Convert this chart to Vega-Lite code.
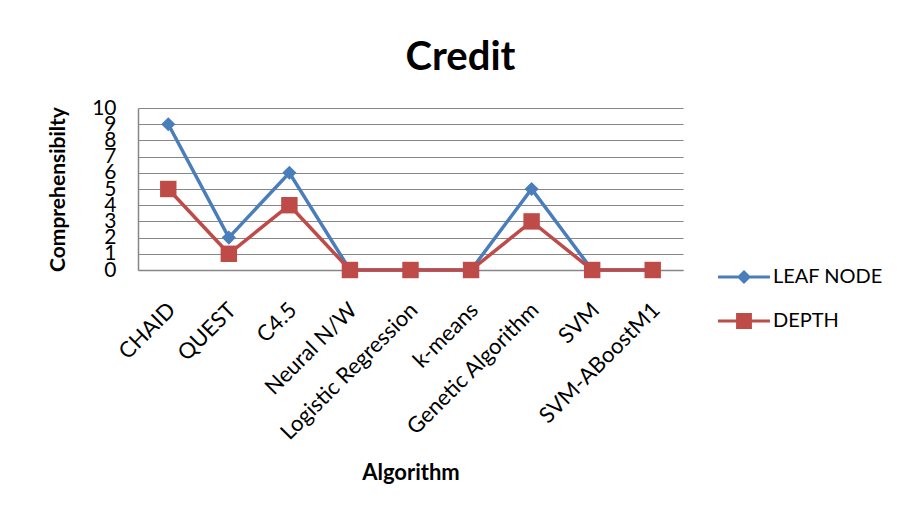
{
  "$schema": "https://vega.github.io/schema/vega-lite/v6.json",
  "width": 545,
  "height": 162,
  "autosize": "none",
  "padding": {"left": 138, "top": 108, "right": 214, "bottom": 241},
  "background": "white",
  "title": {
    "text": "Credit",
    "font": "Lato",
    "fontSize": 40,
    "fontWeight": "bold",
    "color": "black",
    "anchor": "middle",
    "dx": 50,
    "offset": 19
  },
  "data": {
    "values": [
      {"Algorithm": "CHAID", "Series": "LEAF NODE", "Value": 9},
      {"Algorithm": "QUEST", "Series": "LEAF NODE", "Value": 2},
      {"Algorithm": "C4.5", "Series": "LEAF NODE", "Value": 6},
      {"Algorithm": "Neural N/W", "Series": "LEAF NODE", "Value": 0},
      {"Algorithm": "Logistic Regression", "Series": "LEAF NODE", "Value": 0},
      {"Algorithm": "k-means", "Series": "LEAF NODE", "Value": 0},
      {"Algorithm": "Genetic Algorithm", "Series": "LEAF NODE", "Value": 5},
      {"Algorithm": "SVM", "Series": "LEAF NODE", "Value": 0},
      {"Algorithm": "SVM-ABoostM1", "Series": "LEAF NODE", "Value": 0},
      {"Algorithm": "CHAID", "Series": "DEPTH", "Value": 5},
      {"Algorithm": "QUEST", "Series": "DEPTH", "Value": 1},
      {"Algorithm": "C4.5", "Series": "DEPTH", "Value": 4},
      {"Algorithm": "Neural N/W", "Series": "DEPTH", "Value": 0},
      {"Algorithm": "Logistic Regression", "Series": "DEPTH", "Value": 0},
      {"Algorithm": "k-means", "Series": "DEPTH", "Value": 0},
      {"Algorithm": "Genetic Algorithm", "Series": "DEPTH", "Value": 3},
      {"Algorithm": "SVM", "Series": "DEPTH", "Value": 0},
      {"Algorithm": "SVM-ABoostM1", "Series": "DEPTH", "Value": 0}
    ]
  },
  "encoding": {
    "x": {
      "field": "Algorithm",
      "type": "nominal",
      "sort": null,
      "scale": {"type": "point", "padding": 0.5},
      "axis": {
        "title": "Algorithm",
        "titleFont": "Lato",
        "titleFontSize": 22,
        "titleFontWeight": "bold",
        "titleColor": "black",
        "titleBaseline": "middle",
        "titleY": 202,
        "labelAngle": -45,
        "labelFont": "Lato",
        "labelFontSize": 22,
        "labelColor": "black",
        "labelOffset": -4,
        "labelPadding": 29,
        "labelLimit": 400,
        "ticks": false,
        "domainColor": "#868686",
        "domainWidth": 1.5,
        "grid": false
      }
    },
    "y": {
      "field": "Value",
      "type": "quantitative",
      "scale": {"domain": [0, 10], "nice": false},
      "axis": {
        "title": "Comprehensibilty",
        "titleFont": "Lato",
        "titleFontSize": 21,
        "titleFontWeight": "bold",
        "titleColor": "black",
        "titleX": -80,
        "titleBaseline": "middle",
        "values": [0, 1, 2, 3, 4, 5, 6, 7, 8, 9, 10],
        "labelFont": "Lato",
        "labelFontSize": 21,
        "labelColor": "black",
        "labelOverlap": false,
        "labelPadding": 22,
        "ticks": false,
        "domainColor": "#868686",
        "domainWidth": 1.5,
        "grid": true,
        "gridColor": "#868686",
        "gridWidth": 1.2
      }
    },
    "color": {
      "field": "Series",
      "type": "nominal",
      "sort": ["LEAF NODE", "DEPTH"],
      "scale": {"domain": ["LEAF NODE", "DEPTH"], "range": ["#4A7EBB", "#BE4B48"]},
      "legend": {
        "title": null,
        "orient": "none",
        "legendX": 584,
        "legendY": 147,
        "labelFont": "Lato",
        "labelFontSize": 20,
        "labelColor": "black",
        "labelOffset": 7,
        "rowPadding": 12,
        "symbolSize": 1936,
        "symbolStrokeWidth": 0,
        "encode": {
          "symbols": {
            "update": {
              "shape": {"signal": "datum.value === 'LEAF NODE' ? 'M-1.18,-0.07H1.18V0.07H-1.18Z M0,-0.32L0.32,0L0,0.32L-0.32,0Z' : 'M-1.18,-0.07H1.18V0.07H-1.18Z M-0.36,-0.36H0.36V0.36H-0.36Z'"},
              "fill": {"signal": "datum.value === 'LEAF NODE' ? '#4A7EBB' : '#BE4B48'"},
              "fillOpacity": {"value": 1},
              "strokeWidth": {"value": 0},
              "size": {"value": 1936}
            }
          }
        }
      }
    }
  },
  "layer": [
    {
      "mark": {"type": "line", "strokeWidth": 3.5},
      "encoding": {"order": {"field": "Series", "sort": "descending"}}
    },
    {
      "transform": [{"filter": "datum.Series === 'LEAF NODE'"}],
      "mark": {"type": "point", "filled": true, "opacity": 1, "shape": "diamond", "size": 200}
    },
    {
      "transform": [{"filter": "datum.Series === 'DEPTH'"}],
      "mark": {"type": "point", "filled": true, "opacity": 1, "shape": "square", "size": 270}
    }
  ],
  "config": {"view": {"stroke": null}}
}
